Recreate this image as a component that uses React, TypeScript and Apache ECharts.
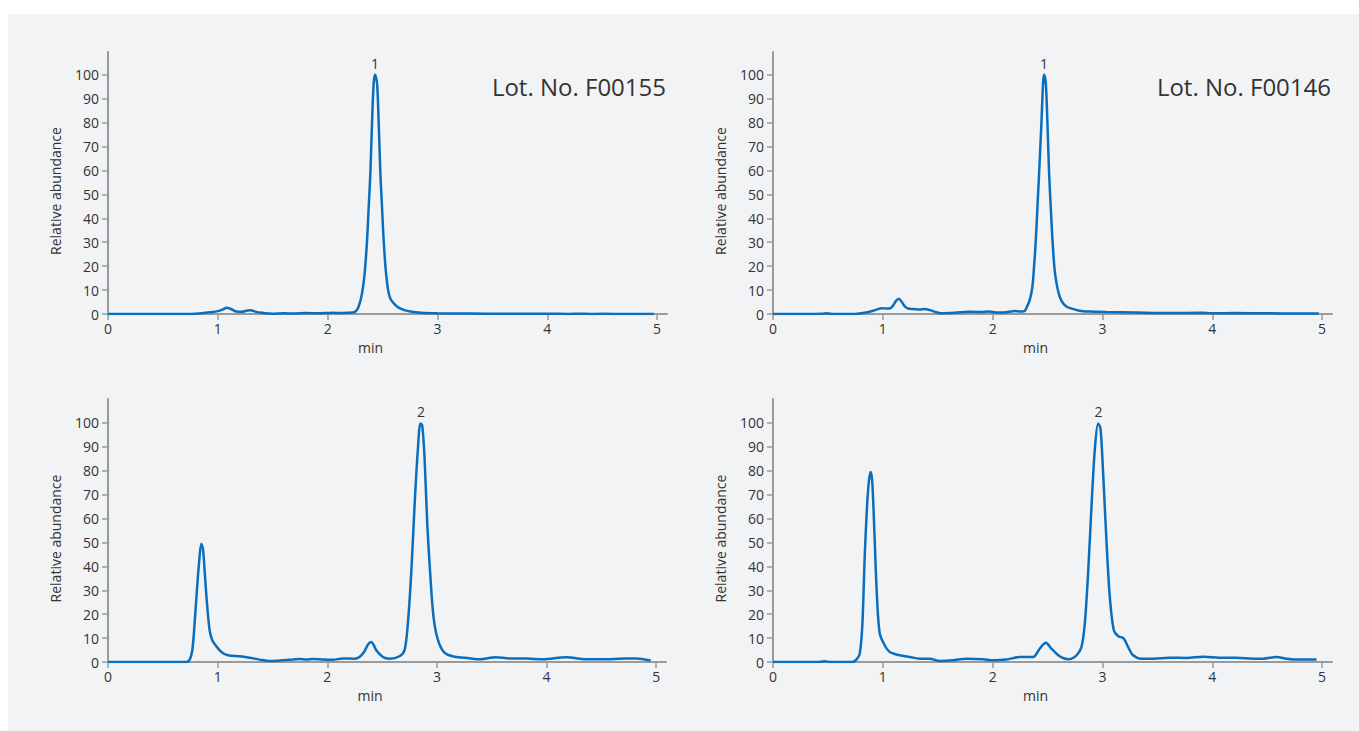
import React, { useEffect, useRef } from "react";
import * as echarts from "echarts";

const xTicks = [0, 1, 2, 3, 4, 5];
const yTicks = [0, 10, 20, 30, 40, 50, 60, 70, 80, 90, 100];
const lotNumbers = ["Lot. No. F00155", "Lot. No. F00146"];
const peakNames = ["1", "1", "2", "2"];
const peakTimes = [2.432, 2.468, 2.855, 2.963];

const f00155Trace1 = [
  [0, 0], [0.3, 0], [0.6, 0], [0.75, 0.05], [0.85, 0.3], [0.93, 0.7], [1.0, 1.2], [1.05, 2.0],
  [1.08, 2.6], [1.12, 2.1], [1.17, 1.0], [1.22, 0.9], [1.27, 1.5], [1.3, 1.6], [1.34, 1.0],
  [1.4, 0.5], [1.5, 0.1], [1.6, 0.3], [1.7, 0.2], [1.8, 0.4], [1.9, 0.3], [2.0, 0.4], [2.05, 0.5],
  [2.1, 0.4], [2.18, 0.5], [2.25, 0.9], [2.282, 3.1], [2.313, 8.6], [2.337, 17], [2.359, 30.9],
  [2.374, 44.8], [2.389, 58.8], [2.404, 79.7], [2.419, 96.4], [2.432, 100], [2.45, 96.4],
  [2.465, 79.7], [2.48, 58.8], [2.495, 44.8], [2.51, 30.9], [2.532, 17], [2.565, 7.2],
  [2.632, 3.1], [2.7, 1.6], [2.753, 1.0], [2.85, 0.5], [3.0, 0.3], [3.3, 0.2], [3.6, 0.1],
  [4.0, 0.1], [4.2, 0.05], [4.3, 0.15], [4.4, 0], [4.5, 0.1], [4.7, 0], [4.97, 0],
];

const f00146Trace1 = [
  [0, 0], [0.3, 0], [0.45, 0.1], [0.49, 0.3], [0.55, 0], [0.75, 0], [0.8, 0.3], [0.87, 0.8],
  [0.93, 1.6], [0.99, 2.4], [1.03, 2.3], [1.06, 2.3], [1.09, 3.3], [1.12, 5.5], [1.145, 6.4],
  [1.17, 5.2], [1.2, 3.2], [1.23, 2.3], [1.28, 2.1], [1.34, 1.9], [1.38, 2.1], [1.43, 1.6],
  [1.48, 0.8], [1.53, 0.3], [1.6, 0.4], [1.7, 0.7], [1.8, 0.9], [1.9, 0.8], [1.97, 1.0],
  [2.03, 0.6], [2.1, 0.6], [2.15, 0.9], [2.2, 1.3], [2.25, 1.0], [2.29, 1.2], [2.313, 3.1],
  [2.338, 5.9], [2.362, 11.4], [2.377, 19.8], [2.393, 30.9], [2.408, 44.8], [2.423, 58.8],
  [2.444, 79.7], [2.459, 96.4], [2.468, 100], [2.484, 96.4], [2.499, 79.7], [2.514, 58.8],
  [2.529, 44.8], [2.545, 30.9], [2.568, 17], [2.611, 7.2], [2.672, 3.1], [2.793, 1.4],
  [2.9, 1.0], [3.036, 0.8], [3.3, 0.6], [3.6, 0.4], [3.9, 0.5], [4.0, 0.3], [4.2, 0.4],
  [4.5, 0.3], [4.8, 0.2], [4.97, 0.2],
];

const f00155Trace2 = [
  [0, 0], [0.4, 0], [0.715, 0], [0.745, 1.0], [0.769, 4.9], [0.79, 16.1], [0.811, 30],
  [0.83, 41.2], [0.851, 49.5], [0.866, 47.4], [0.881, 38.4], [0.903, 24.4], [0.927, 13.3],
  [0.951, 9.1], [0.988, 6.6], [1.034, 4.2], [1.094, 2.8], [1.2, 2.4], [1.29, 1.8], [1.383, 1.0],
  [1.474, 0.4], [1.565, 0.6], [1.686, 1.0], [1.75, 1.3], [1.808, 1.0], [1.87, 1.3], [1.96, 1.0],
  [2.05, 0.9], [2.142, 1.5], [2.249, 1.4], [2.294, 2.1], [2.34, 4.5], [2.37, 7.2], [2.401, 8.4],
  [2.425, 7.0], [2.447, 4.9], [2.507, 2.1], [2.568, 1.4], [2.659, 2.4], [2.705, 4.9],
  [2.735, 16], [2.766, 37], [2.796, 65], [2.826, 88.6], [2.85, 99.8], [2.866, 99], [2.887, 86],
  [2.912, 58], [2.939, 37], [2.969, 19], [3.008, 9.5], [3.069, 3.9], [3.16, 2.2], [3.296, 1.6],
  [3.387, 1.1], [3.54, 2.0], [3.66, 1.5], [3.815, 1.5], [3.966, 1.1], [4.18, 2.0], [4.36, 1.1],
  [4.51, 1.1], [4.73, 1.5], [4.82, 1.5], [4.95, 0.6],
];

const f00146Trace2 = [
  [0, 0], [0.4, 0], [0.47, 0.3], [0.52, 0], [0.72, 0], [0.759, 1.0], [0.79, 3.5], [0.814, 16],
  [0.835, 44], [0.856, 65], [0.874, 76], [0.89, 79.5], [0.905, 74.6], [0.926, 51], [0.947, 27],
  [0.972, 11.9], [1.017, 7], [1.063, 4.2], [1.154, 2.8], [1.245, 2.1], [1.336, 1.4],
  [1.427, 1.4], [1.518, 0.4], [1.639, 0.7], [1.761, 1.4], [1.913, 1.2], [2.0, 0.7],
  [2.126, 1.0], [2.247, 2.1], [2.368, 2.1], [2.429, 5.6], [2.484, 8], [2.535, 5.6],
  [2.611, 2.4], [2.687, 1.1], [2.763, 2.8], [2.809, 6.3], [2.839, 16], [2.869, 37], [2.9, 65],
  [2.93, 88.6], [2.96, 99.8], [2.982, 97.7], [3.006, 79], [3.036, 51], [3.067, 27],
  [3.103, 13.3], [3.142, 10.9], [3.194, 9.8], [3.233, 6.3], [3.279, 2.8], [3.355, 1.4],
  [3.461, 1.4], [3.613, 1.8], [3.765, 1.7], [3.916, 2.2], [4.068, 1.8], [4.22, 1.8],
  [4.372, 1.4], [4.463, 1.4], [4.585, 2.1], [4.676, 1.4], [4.767, 1.0], [4.949, 1.0],
];

const traces = [f00155Trace1, f00146Trace1, f00155Trace2, f00146Trace2];

const FONT = "'Open Sans', 'Noto Sans', sans-serif";
const TEXT = "#333333";
const AXIS = "#9a9a9a";
const LINE = "#0a6ebd";
const FS = 14;

function buildOption() {
  const grids = [
    { left: 108, top: 52, width: 559, height: 262, yMax: 109.5 },
    { left: 773, top: 52, width: 559, height: 262, yMax: 109.5 },
    { left: 108, top: 399, width: 558, height: 263, yMax: 110 },
    { left: 773, top: 399, width: 559, height: 263, yMax: 110 },
  ];
  const xAxis = grids.map((g, i) => ({
    type: "value",
    gridIndex: i,
    min: 0,
    max: 5.09,
    name: "min",
    nameLocation: "middle",
    nameGap: 26,
    nameTextStyle: { fontFamily: FONT, fontSize: FS, color: TEXT, padding: [0, 34, 0, 0] },
    splitLine: { show: false },
    axisLine: { show: true, lineStyle: { color: AXIS, width: 2 } },
    axisTick: { show: true, length: 6, customValues: xTicks, lineStyle: { color: AXIS, width: 1.5 } },
    axisLabel: { fontFamily: FONT, fontSize: FS, color: TEXT, margin: 7, customValues: xTicks },
  }));
  const yAxis = grids.map((g, i) => ({
    type: "value",
    gridIndex: i,
    min: 0,
    max: g.yMax,
    name: "Relative abundance",
    nameLocation: "middle",
    nameGap: 46,
    nameTextStyle: { fontFamily: FONT, fontSize: FS, color: TEXT, padding: [0, 16, 0, 0] },
    splitLine: { show: false },
    axisLine: { show: true, lineStyle: { color: AXIS, width: 2 } },
    axisTick: { show: true, length: 6, customValues: yTicks, lineStyle: { color: AXIS, width: 1.5 } },
    axisLabel: { fontFamily: FONT, fontSize: FS, color: TEXT, margin: 9, customValues: yTicks },
  }));
  const series = traces.map((d, i) => ({
    type: "line",
    xAxisIndex: i,
    yAxisIndex: i,
    data: d,
    showSymbol: false,
    smooth: 0.3,
    lineStyle: { color: LINE, width: 2.5 },
    markPoint: {
      symbol: "circle",
      symbolSize: 0,
      silent: true,
      data: [{ coord: [peakTimes[i], 100] }],
      label: {
        show: true,
        position: "top",
        distance: 4,
        formatter: peakNames[i],
        fontFamily: FONT,
        fontSize: FS,
        color: TEXT,
      },
    },
  }));
  return {
    animation: false,
    backgroundColor: "transparent",
    grid: grids.map((g) => ({ left: g.left, top: g.top, width: g.width, height: g.height })),
    xAxis,
    yAxis,
    series,
    graphic: [
      {
        type: "text",
        x: 666,
        y: 86,
        style: {
          text: lotNumbers[0],
          fontFamily: FONT,
          fontSize: 24,
          fill: TEXT,
          textAlign: "right",
          textVerticalAlign: "middle",
        },
      },
      {
        type: "text",
        x: 1331,
        y: 86,
        style: {
          text: lotNumbers[1],
          fontFamily: FONT,
          fontSize: 24,
          fill: TEXT,
          textAlign: "right",
          textVerticalAlign: "middle",
        },
      },
    ],
  };
}

export default function App() {
  const ref = useRef<HTMLDivElement>(null);
  useEffect(() => {
    if (!ref.current) return;
    const chart = echarts.init(ref.current, undefined, { renderer: "svg" });
    chart.setOption(buildOption() as any);
    return () => chart.dispose();
  }, []);
  return (
    <div style={{ position: "absolute", left: 0, top: 0, width: 1359, height: 731, background: "#ffffff" }}>
      <div style={{ position: "absolute", left: 8, top: 14, width: 1351, height: 717, background: "#f2f3f5" }} />
      <div ref={ref} style={{ position: "absolute", left: 0, top: 0, width: 1359, height: 731 }} />
    </div>
  );
}
